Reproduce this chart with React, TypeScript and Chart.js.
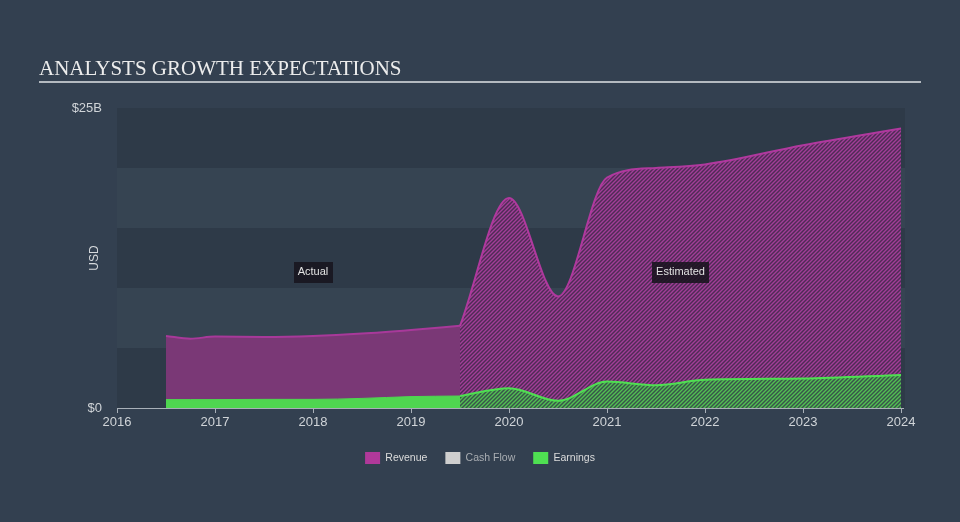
import React, { useEffect, useRef } from 'react';
import { Chart, registerables } from 'chart.js';

Chart.register(...registerables);

// ---- data (USD billions) ----
const actualYears = [2016.5, 2016.75, 2017, 2017.5, 2018, 2018.5, 2019, 2019.5];
const actualRevenue = [6.0, 5.78, 5.95, 5.92, 6.0, 6.2, 6.5, 6.85];
const actualEarnings = [0.7, 0.7, 0.7, 0.72, 0.72, 0.8, 0.95, 1.0];

const estYears = [2019.5, 2020, 2020.5, 2021, 2021.5, 2022, 2023, 2024];
const estRevenue = [6.85, 17.5, 9.3, 19.2, 20.0, 20.3, 21.9, 23.3];
const estEarnings = [1.0, 1.65, 0.6, 2.2, 1.9, 2.35, 2.45, 2.75];

const yearTicks = [2016, 2017, 2018, 2019, 2020, 2021, 2022, 2023, 2024];
const yTickValues = [0, 25];
const legendNames = ['Revenue', 'Cash Flow', 'Earnings'];
const legendColors = ['#b0399a', '#cfcfcf', '#4fe052'];
const regionLabels = [
  { text: 'Actual', x: 2018, y: 11.35 },
  { text: 'Estimated', x: 2021.75, y: 11.35 },
];

const FONT = '"Liberation Sans", Arial, sans-serif';

function hatch(bg: string, line: string): CanvasPattern | string {
  const c = document.createElement('canvas');
  c.width = 4;
  c.height = 4;
  const g = c.getContext('2d');
  if (!g) return bg;
  g.fillStyle = bg;
  g.fillRect(0, 0, 4, 4);
  g.strokeStyle = line;
  g.lineWidth = 1.4;
  g.beginPath();
  g.moveTo(0, 4);
  g.lineTo(4, 0);
  g.moveTo(-1, 1);
  g.lineTo(1, -1);
  g.moveTo(3, 5);
  g.lineTo(5, 3);
  g.stroke();
  const p = g.createPattern(c, 'repeat');
  return p || bg;
}

const pts = (xs: number[], ys: number[]) => xs.map((x, i) => ({ x, y: ys[i] }));

const decorPlugin = {
  id: 'decor',
  beforeDraw(chart: any) {
    const { ctx, chartArea, scales } = chart;
    const y = scales.y;
    ctx.save();
    ctx.fillStyle = '#334050';
    ctx.fillRect(0, 0, chart.width, chart.height);
    // bands
    for (let i = 0; i < 5; i++) {
      const top = y.getPixelForValue(25 - i * 5);
      const bot = y.getPixelForValue(20 - i * 5);
      ctx.fillStyle = i % 2 === 0 ? '#2e3a48' : '#364452';
      ctx.fillRect(chartArea.left, top, chartArea.right - chartArea.left + 2, bot - top);
    }
    // title
    ctx.fillStyle = '#ececec';
    ctx.font = '21px "Liberation Serif", "Times New Roman", serif';
    ctx.textBaseline = 'alphabetic';
    ctx.textAlign = 'left';
    ctx.fillText('ANALYSTS GROWTH EXPECTATIONS', 39, 75);
    ctx.fillStyle = '#b4bac0';
    ctx.fillRect(39, 81, 882, 2);
    // USD axis title
    ctx.translate(chartArea.left - 22, (chartArea.top + chartArea.bottom) / 2);
    ctx.rotate(-Math.PI / 2);
    ctx.fillStyle = '#d6d9dc';
    ctx.font = '12px ' + FONT;
    ctx.textAlign = 'center';
    ctx.textBaseline = 'middle';
    ctx.fillText('USD', 0, 0);
    ctx.restore();
  },
  afterDatasetsDraw(chart: any) {
    const { ctx, scales } = chart;
    ctx.save();
    ctx.font = '11px ' + FONT;
    ctx.textAlign = 'center';
    ctx.textBaseline = 'middle';
    regionLabels.forEach((r) => {
      const px = scales.x.getPixelForValue(r.x);
      const py = scales.y.getPixelForValue(r.y);
      const w = ctx.measureText(r.text).width + 8;
      ctx.fillStyle = 'rgba(24,20,30,0.88)';
      ctx.fillRect(Math.round(px - w / 2), Math.round(py - 10), Math.round(w), 21);
      ctx.fillStyle = '#e2e2e2';
      ctx.fillText(r.text, px, py + 0.5);
    });
    ctx.restore();
  },
};

export default function App() {
  const ref = useRef<HTMLCanvasElement>(null);

  useEffect(() => {
    if (!ref.current) return;
    const revHatch = hatch('#4e2b55', '#a23e98');
    const earnHatch = hatch('#38544a', '#52c052');

    const chart = new Chart(ref.current, {
      type: 'line',
      data: {
        datasets: [
          {
            label: legendNames[0],
            data: pts(actualYears, actualRevenue),
            borderColor: '#a8399a',
            backgroundColor: '#7a3876',
            borderWidth: 2,
            fill: 'origin',
            pointRadius: 0,
            cubicInterpolationMode: 'monotone',
            order: 5,
          },
          {
            label: legendNames[1],
            data: [],
            borderColor: legendColors[1],
            backgroundColor: legendColors[1],
            pointRadius: 0,
            order: 3,
          },
          {
            label: legendNames[2],
            data: pts(actualYears, actualEarnings),
            borderColor: '#4fd650',
            backgroundColor: '#4fd650',
            borderWidth: 1,
            fill: 'origin',
            pointRadius: 0,
            cubicInterpolationMode: 'monotone',
            order: 1,
          },
          {
            label: 'Revenue (estimated)',
            data: pts(estYears, estRevenue),
            borderColor: '#b0399e',
            backgroundColor: revHatch as any,
            borderWidth: 2,
            fill: 'origin',
            pointRadius: 0,
            cubicInterpolationMode: 'monotone',
            order: 4,
          },
          {
            label: 'Earnings (estimated)',
            data: pts(estYears, estEarnings),
            borderColor: '#4fe052',
            backgroundColor: earnHatch as any,
            borderWidth: 2,
            fill: 'origin',
            pointRadius: 0,
            cubicInterpolationMode: 'monotone',
            order: 0,
          },
        ],
      },
      options: {
        animation: false,
        responsive: false,
        maintainAspectRatio: false,
        layout: { padding: { top: 108, right: 0, bottom: 48, left: 0 } },
        plugins: {
          tooltip: { enabled: false },
          legend: {
            position: 'bottom',
            labels: {
              boxWidth: 15,
              boxHeight: 12,
              padding: 18,
              color: '#dcdcdc',
              font: { family: FONT, size: 10.5 },
              filter: (item: any) => item.datasetIndex <= 2,
              sort: (a: any, b: any) => a.datasetIndex - b.datasetIndex,
              generateLabels: (ch: any) => {
                const base = Chart.defaults.plugins.legend.labels.generateLabels(ch);
                return base.map((it: any) => {
                  const i = it.datasetIndex;
                  if (i <= 2) {
                    it.fillStyle = legendColors[i];
                    it.strokeStyle = legendColors[i];
                    it.lineWidth = 0;
                    it.fontColor = i === 1 ? '#a9adb2' : '#dcdcdc';
                  }
                  return it;
                });
              },
            },
          },
        },
        scales: {
          x: {
            type: 'linear',
            min: 2016,
            max: 2024.02,
            afterFit: (s: any) => {
              s.height = 26;
            },
            afterBuildTicks: (s: any) => {
              s.ticks = yearTicks.map((v) => ({ value: v }));
            },
            ticks: {
              color: '#d0d4d8',
              font: { family: FONT, size: 13 },
              padding: 2,
              maxRotation: 0,
              autoSkip: false,
              callback: (v: any) => String(v),
            },
            grid: {
              display: true,
              drawOnChartArea: false,
              drawTicks: true,
              tickLength: 5,
              color: '#a9b0b8',
            },
            border: { display: true, color: '#a9b0b8', width: 1 },
          },
          y: {
            min: 0,
            max: 25,
            afterFit: (s: any) => {
              s.width = 117;
            },
            afterBuildTicks: (s: any) => {
              s.ticks = yTickValues.map((v) => ({ value: v }));
            },
            ticks: {
              color: '#d0d4d8',
              font: { family: FONT, size: 13 },
              padding: 15,
              callback: (v: any) => (v === 0 ? '$0' : `$${v}B`),
            },
            grid: { display: false, drawTicks: false },
            border: { display: false },
          },
          yRight: {
            position: 'right',
            min: 0,
            max: 25,
            afterFit: (s: any) => {
              s.width = 57;
            },
            ticks: { display: false },
            grid: { display: false, drawTicks: false },
            border: { display: false },
          },
        },
      },
      plugins: [decorPlugin],
    } as any);
    return () => chart.destroy();
  }, []);

  return (
    <div style={{ position: 'fixed', left: 0, top: 0, width: 960, height: 522 }}>
      <canvas ref={ref} width={960} height={522} style={{ display: 'block', width: 960, height: 522 }} />
    </div>
  );
}
